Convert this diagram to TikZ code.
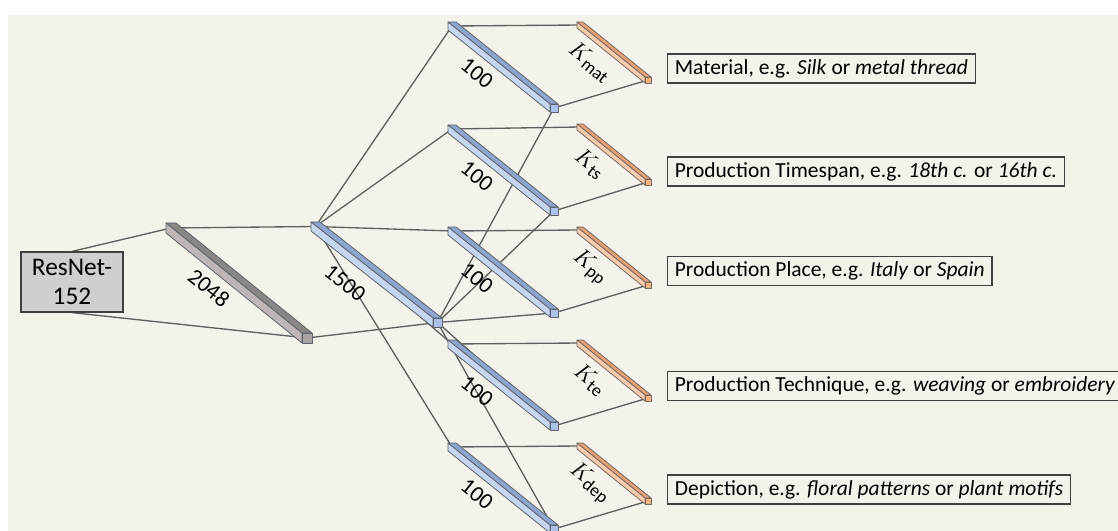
\documentclass[tikz,border=0pt]{standalone}
\usepackage{fontspec}
\setmainfont{Carlito}
\usepackage{tikz}
\usetikzlibrary{calc}
\definecolor{cream}{RGB}{244,243,235}
\definecolor{wirec}{RGB}{96,96,96}
\definecolor{rimc}{RGB}{95,100,108}
\pgfdeclarelayer{bglayer}
\pgfdeclarelayer{edgelayer}
\pgfsetlayers{bglayer,edgelayer,main}
\tikzset{wire/.style={draw=wirec, line width=1pt}}
\tikzset{greytop/.style={fill={rgb,255:red,139;green,134;blue,134}, draw=rimc, line width=0.6pt, line join=round},
  greyside/.style={greytop, fill={rgb,255:red,190;green,182;blue,182}},
  greyend/.style={greytop, fill={rgb,255:red,168;green,164;blue,164}}}
\tikzset{bluetop/.style={fill={rgb,255:red,140;green,166;blue,206}, draw=rimc, line width=0.6pt, line join=round},
  blueside/.style={bluetop, fill={rgb,255:red,197;green,215;blue,240}},
  blueend/.style={bluetop, fill={rgb,255:red,170;green,194;blue,234}}}
\tikzset{orangetop/.style={fill={rgb,255:red,230;green,160;blue,120}, draw={rgb,255:red,120;green,105;blue,95}, line width=0.6pt, line join=round},
  orangeside/.style={orangetop, fill={rgb,255:red,249;green,204;blue,174}},
  orangeend/.style={orangetop, fill={rgb,255:red,244;green,177;blue,131}}}
\tikzstyle{num}=[rotate=-39, inner sep=0pt, font=\fontsize{17}{17}\selectfont]
\tikzstyle{klbl}=[rotate=-39, inner sep=0pt, font=\fontsize{19}{19}\selectfont]
\tikzstyle{lbl}=[draw={rgb,255:red,64;green,64;blue,64}, line width=0.8pt, anchor=west, inner xsep=5.5pt,
  minimum height=21.75pt, font=\fontsize{16.1}{17}\selectfont]
% bar from back corner (#1-a) to end face (#1-z), side #2
\newcommand{\prism}[3]{%
  \draw[#3top] (#1-z) -- ++(#2,0) -- ($(#1-a)+(#2,0)$) -- (#1-a) -- cycle;
  \draw[#3side] (#1-z) -- ++(0,#2) -- ($(#1-a)+(0,#2)$) -- (#1-a) -- cycle;
  \draw[#3end] (#1-z) rectangle ++(#2,#2);
  \coordinate (#1-in) at ($(#1-a)+(#2/2,#2/2)$);
  \coordinate (#1-out) at ($(#1-z)+(#2/2,#2/2)$);
}

\begin{document}
\begin{tikzpicture}[x=0.75pt, y=-0.75pt]
  \useasboundingbox (0,0) rectangle (1118,531);
  \clip (0,0) rectangle (1118,531);
  \begin{pgfonlayer}{bglayer}
    \fill[cream] (8,15) rectangle (1118,531);
  \end{pgfonlayer}

  \node (res) [draw={rgb,255:red,64;green,64;blue,64}, line width=0.9pt, fill={rgb,255:red,208;green,206;blue,206},
    minimum width=76.5pt, minimum height=45pt, align=center, font=\fontsize{19}{22}\selectfont] at (72,282) {ResNet-\\152};

  % feature vectors
  \coordinate (feat-a) at (166,223);
  \coordinate (feat-z) at (302,333);
  \prism{feat}{10}{grey}
  \node[num] at ($(feat-a)+(43,65)$) {2048};

  \coordinate (fc-a) at (311,222);
  \coordinate (fc-z) at (433,318);
  \prism{fc}{9}{blue}
  \node[num] at ($(fc-a)+(34,61)$) {1500};

  % one head per attribute
  \foreach \n/\ya/\yk in {mat/22/22, ts/125/124, pp/227/227, te/340/340, dep/443/443}{
    \coordinate (h\n-a) at (448,\ya);
    \coordinate (h\n-z) at (550,\ya+82);
    \prism{h\n}{8}{blue}
    \node[num] at ($(h\n-a)+(29,51)$) {100};
    \coordinate (k\n-a) at (577,\yk);
    \coordinate (k\n-z) at (645,\yk+55);
    \prism{k\n}{6}{orange}
    \node[klbl] at ($(k\n-a)+(13,40)$) {$K_{\mathrm{\n}}$};
  }

  \node (lmat) [lbl] at (667,68.5) {Material, e.g. \textit{Silk} or \textit{metal thread}};
  \node (lts) [lbl] at (667,171.5) {Production Timespan, e.g. \textit{18th c.} or \textit{16th c.}};
  \node (lpp) [lbl] at (667,271) {Production Place, e.g. \textit{Italy} or \textit{Spain}};
  \node (lte) [lbl] at (667,386) {Production Technique, e.g. \textit{weaving} or \textit{embroidery}};
  \node (ldep) [lbl] at (667,489.5) {Depiction, e.g. \textit{floral patterns} or \textit{plant motifs}};

  \begin{pgfonlayer}{edgelayer}
    \draw[wire] (res.north) -- (feat-in);
    \draw[wire] (res.south) -- (feat-out);
    \draw[wire] (feat-in) -- (fc-in);
    \draw[wire] (feat-out) -- (fc-out);
    \foreach \n in {mat, ts, pp, te, dep}{
      \draw[wire] (fc-in) -- (h\n-in);
      \draw[wire] (fc-out) -- (h\n-out);
      \draw[wire] (h\n-in) -- (k\n-in);
      \draw[wire] (h\n-out) -- (k\n-out);
    }
  \end{pgfonlayer}
\end{tikzpicture}
\end{document}
